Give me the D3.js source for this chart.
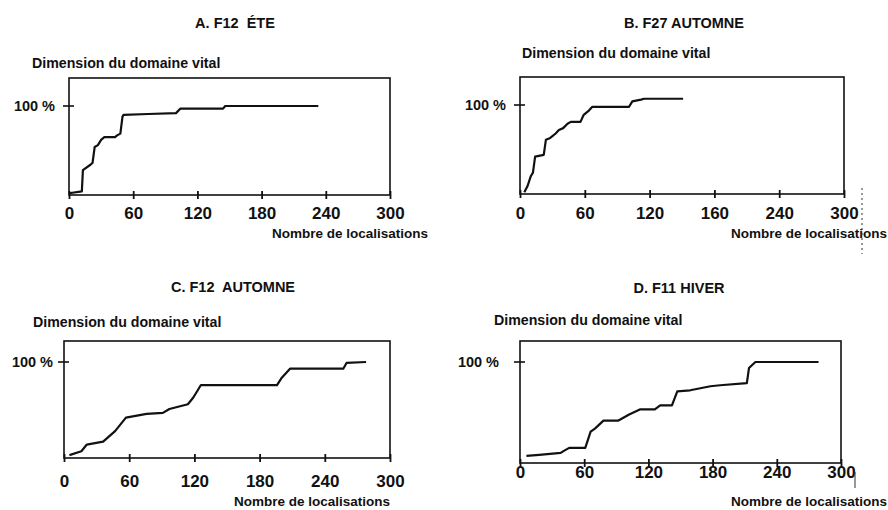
<!DOCTYPE html>
<html>
<head>
<meta charset="utf-8">
<script src="https://cdn.jsdelivr.net/npm/d3@7"></script>
<style>
  body { margin: 0; background: #fff; }
  svg text { font-family: "Liberation Sans", Arial, sans-serif; font-weight: bold; fill: #111; white-space: pre; }
</style>
</head>
<body>
<div id="chart"></div>
<script>
// values (x = nombre de localisations, y = % of final home range)
const titles = ["A. F12  ÉTE", "B. F27 AUTOMNE", "C. F12  AUTOMNE", "D. F11 HIVER"];
const yLabel = "Dimension du domaine vital";
const xLabel = "Nombre de localisations";
const pctLabel = "100 %";
const xTicks = [0, 60, 120, 180, 240, 300];
const xTickLabelsA = ["0", "60", "120", "180", "240", "300"];
const xTickLabelsB = ["0", "60", "120", "160", "240", "300"];
const xTickLabelsC = ["0", "60", "120", "180", "240", "300"];
const xTickLabelsD = ["0", "60", "120", "180", "240", "300"];

const locA = [0, 12, 13, 20, 22, 24, 27, 30, 33, 43, 45, 48, 50, 51, 74, 100, 104, 144, 146, 233];
const pctA = [2, 4, 28, 34, 36, 54, 56, 62, 65, 65, 67, 69, 88, 90, 91, 92, 97, 97, 100, 100];

const locB = [4, 7, 10, 12, 14, 22, 24, 28, 33, 36, 40, 44, 47, 56, 59, 64, 67, 101, 104, 112, 115, 151];
const pctB = [2, 9, 20, 24, 42, 44, 61, 63, 68, 72, 74, 79, 81, 81, 89, 94, 98, 98, 104, 106, 107, 107];

const locC = [5, 16, 21, 36, 47, 57, 76, 91, 97, 114, 119, 126, 196, 200, 208, 257, 260, 278];
const pctC = [3, 7, 14, 17, 28, 42, 46, 47, 51, 56, 63, 76, 76, 83, 93, 93, 99, 100];

const locD = [6, 18, 38, 41, 46, 61, 66, 70, 78, 92, 102, 112, 126, 131, 142, 147, 159, 178, 187, 212, 214, 220, 279];
const pctD = [7, 8, 10, 12, 15, 15, 31, 34, 42, 42, 48, 53, 53, 57, 57, 71, 72, 76, 77, 79, 94, 100, 100];

const W = 888, H = 510;

// layout of each panel on the page
const panels = [
  { title: titles[0], loc: locA, pct: pctA, ticks: xTickLabelsA,
    left: 69, right: 390, top: 78, bottom: 195, y100: 106,
    titleX: 235, titleY: 23, yLabX: 32, yLabY: 63, pctX: 55,
    tickY: 213, xLabX: 428, xLabY: 233 },
  { title: titles[1], loc: locB, pct: pctB, ticks: xTickLabelsB,
    left: 520, right: 844, top: 77, bottom: 194, y100: 105,
    titleX: 684, titleY: 23, yLabX: 522, yLabY: 53, pctX: 506,
    tickY: 213, xLabX: 887, xLabY: 233 },
  { title: titles[2], loc: locC, pct: pctC, ticks: xTickLabelsC,
    left: 64, right: 390, top: 341, bottom: 458, y100: 362,
    titleX: 233, titleY: 287, yLabX: 33, yLabY: 322, pctX: 53,
    tickY: 481, xLabX: 390, xLabY: 501 },
  { title: titles[3], loc: locD, pct: pctD, ticks: xTickLabelsD,
    left: 520, right: 841, top: 341, bottom: 463, y100: 362,
    titleX: 679, titleY: 288, yLabX: 494, yLabY: 320, pctX: 499,
    tickY: 472, xLabX: 887, xLabY: 501 }
];

const svg = d3.select("#chart").append("svg")
  .attr("width", W)
  .attr("height", H);

panels.forEach(p => {
  const x = d3.scaleLinear().domain([0, 300]).range([p.left, p.right]);
  const y = d3.scaleLinear().domain([0, 100]).range([p.bottom, p.y100]);
  const g = svg.append("g");

  // frame
  g.append("rect")
    .attr("x", p.left).attr("y", p.top)
    .attr("width", p.right - p.left).attr("height", p.bottom - p.top)
    .attr("fill", "none").attr("stroke", "#111").attr("stroke-width", 1.6);

  // bottom axis ticks (crossing the frame line) and labels
  const xAxis = d3.axisBottom(x).tickValues(xTicks).tickSizeInner(4).tickSizeOuter(0)
    .tickFormat((d, i) => p.ticks[i]);
  const ax = g.append("g").attr("transform", "translate(0," + p.bottom + ")").call(xAxis);
  ax.select(".domain").remove();
  ax.selectAll(".tick line").attr("y1", -4).attr("y2", 4).attr("stroke", "#111").attr("stroke-width", 1.8);
  ax.selectAll(".tick text").attr("y", p.tickY - p.bottom).attr("dy", "0.35em")
    .attr("font-size", 17).attr("fill", "#111")
    .style("font-family", "'Liberation Sans', Arial, sans-serif").style("font-weight", "bold");

  // 100 % tick on the left frame
  g.append("line")
    .attr("x1", p.left - 6).attr("x2", p.left + 5)
    .attr("y1", y(100)).attr("y2", y(100))
    .attr("stroke", "#111").attr("stroke-width", 1.6);
  g.append("text")
    .attr("x", p.pctX).attr("y", y(100)).attr("dy", "0.35em")
    .attr("text-anchor", "end").attr("font-size", 14.5)
    .text(pctLabel);

  // curve
  const pts = p.loc.map((d, i) => [d, p.pct[i]]);
  g.append("path")
    .datum(pts)
    .attr("fill", "none").attr("stroke", "#111").attr("stroke-width", 2.2)
    .attr("stroke-linejoin", "round")
    .attr("d", d3.line().x(d => x(d[0])).y(d => y(d[1])));

  // texts
  g.append("text")
    .attr("x", p.titleX).attr("y", p.titleY).attr("dy", "0.35em")
    .attr("text-anchor", "middle").attr("font-size", 14.5)
    .text(p.title);
  g.append("text")
    .attr("x", p.yLabX).attr("y", p.yLabY).attr("dy", "0.35em")
    .attr("font-size", 14.2)
    .text(yLabel);
  g.append("text")
    .attr("x", p.xLabX).attr("y", p.xLabY).attr("dy", "0.35em")
    .attr("text-anchor", "end").attr("font-size", 13.5)
    .text(xLabel);
});

// scan marks at the right edge
svg.append("line")
  .attr("x1", 862).attr("x2", 862).attr("y1", 188).attr("y2", 254)
  .attr("stroke", "#333").attr("stroke-width", 1).attr("stroke-dasharray", "2,3");
svg.append("line")
  .attr("x1", 855).attr("x2", 855).attr("y1", 472).attr("y2", 488)
  .attr("stroke", "#333").attr("stroke-width", 1);
</script>
</body>
</html>
